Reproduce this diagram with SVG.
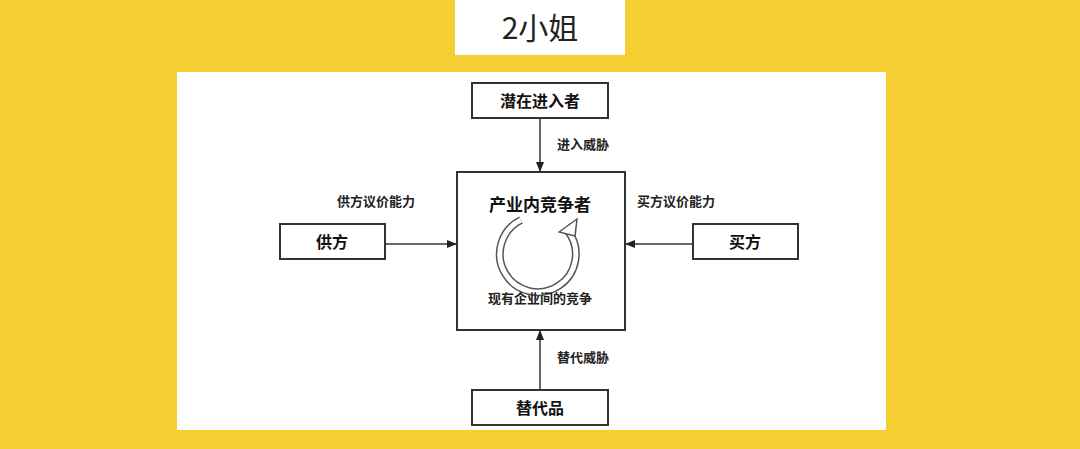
<svg xmlns="http://www.w3.org/2000/svg" width="1080" height="449" viewBox="0 0 1080 449">
<style>
.box{fill:#fff;stroke:#333;stroke-width:2}
.t{font-family:"Noto Sans CJK SC",sans-serif;font-weight:bold;fill:#111;text-anchor:middle}
.lbl{font-family:"Noto Sans CJK SC",serif;font-weight:bold;font-size:13px;fill:#222}
.ln{stroke:#333;stroke-width:1.5;fill:none;marker-end:url(#ah)}
</style>
<defs><marker id="ah" markerWidth="10" markerHeight="10" refX="9" refY="5" orient="auto" markerUnits="userSpaceOnUse"><path d="M0,1 L10,5 L0,9 Z" fill="#222"/></marker></defs>
<rect width="1080" height="449" fill="#f5cf32"/>
<rect x="455" y="0" width="170" height="55" fill="#fff"/>
<text x="540" y="39" font-family="'Noto Sans CJK SC',sans-serif" font-size="30" text-anchor="middle" fill="#222">2小姐</text>
<rect x="177" y="72" width="709" height="358" fill="#fff"/>
<g id="connectors">
<line class="ln" x1="540" y1="118" x2="540" y2="171"/>
<line class="ln" x1="385" y1="244" x2="456" y2="244"/>
<line class="ln" x1="693" y1="244" x2="626" y2="244"/>
<line class="ln" x1="540" y1="390" x2="540" y2="331"/>
<text class="lbl" x="557" y="149">进入威胁</text>
<text class="lbl" x="337" y="206">供方议价能力</text>
<text class="lbl" x="637" y="206">买方议价能力</text>
<text class="lbl" x="557" y="362">替代威胁</text>
</g>
<g id="n1"><rect class="box" x="472" y="83" width="136" height="35"/><text class="t" x="540" y="107" font-size="16">潜在进入者</text></g>
<g id="n2"><rect class="box" x="280" y="224" width="105" height="35"/><text class="t" x="332" y="248" font-size="16">供方</text></g>
<g id="n3"><rect class="box" x="693" y="224" width="105" height="35"/><text class="t" x="745" y="248" font-size="16">买方</text></g>
<g id="n4"><rect class="box" x="472" y="390" width="136" height="35"/><text class="t" x="540" y="414" font-size="16">替代品</text></g>
<g id="n5"><rect class="box" x="457" y="172" width="168" height="158"/>
<text class="t" x="540" y="211" font-size="17">产业内竞争者</text>
<path d="M521,220 A38,38 0 1 0 568,231" fill="none" stroke="#555" stroke-width="8"/>
<path d="M521,220 A38,38 0 1 0 568,231" fill="none" stroke="#fff" stroke-width="5"/>
<polygon points="559,232 577,219 575,236" fill="#fff" stroke="#555" stroke-width="1.5"/>
<text class="lbl" x="540" y="303" text-anchor="middle">现有企业间的竞争</text>
</g>
</svg>
